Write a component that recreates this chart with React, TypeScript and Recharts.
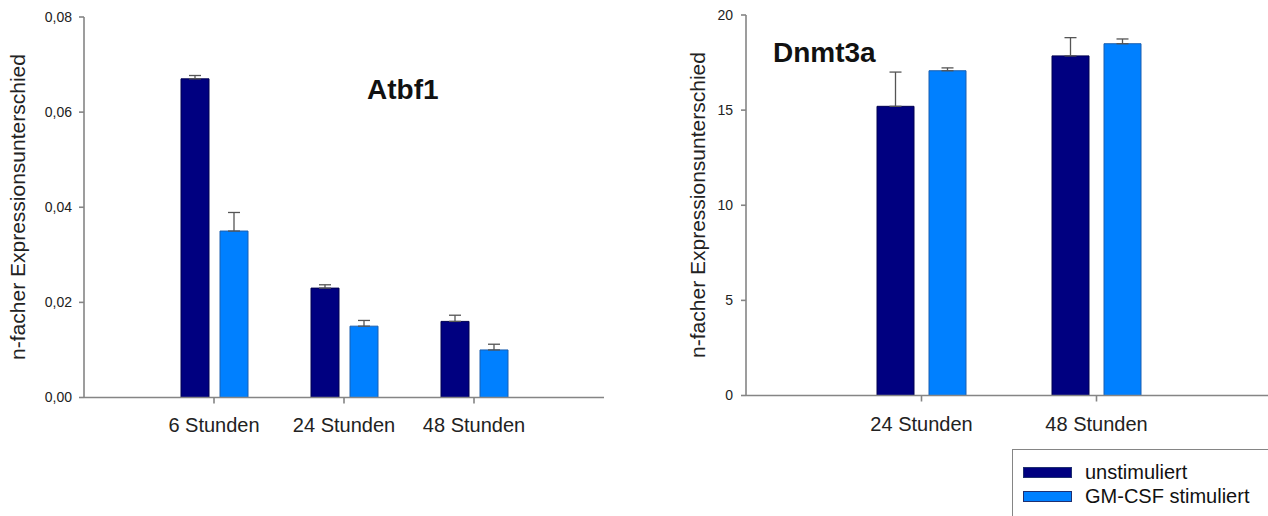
import React from 'react';
import { BarChart, Bar, XAxis, YAxis, ErrorBar, Legend } from 'recharts';

// Atbf1 (left panel)
const atbfTimes = ['6 Stunden', '24 Stunden', '48 Stunden'];
const atbfUnstim = [0.067, 0.023, 0.016];
const atbfUnstimErr = [0.0007, 0.0007, 0.0013];
const atbfStim = [0.035, 0.015, 0.01];
const atbfStimErr = [0.0039, 0.0012, 0.0012];
const atbfTicks = [0, 0.02, 0.04, 0.06, 0.08];

// Dnmt3a (right panel)
const dnmtTimes = ['24 Stunden', '48 Stunden'];
const dnmtUnstim = [15.2, 17.85];
const dnmtUnstimErr = [1.8, 0.96];
const dnmtStim = [17.07, 18.49];
const dnmtStimErr = [0.15, 0.25];
const dnmtTicks = [0, 5, 10, 15, 20];

const seriesNames = ['unstimuliert', 'GM-CSF stimuliert'];
const yLabel = 'n-facher Expressionsunterschied';

const FONT = '"Liberation Sans", Arial, sans-serif';
const AXIS = '#858585';
const DARK = '#000080';
const LIGHT = '#0080ff';

// error bars only go up, so lower bound is 0
const buildRows = (times, unstim, unstimErr, stim, stimErr) =>
  times.map((t, i) => ({
    time: t,
    unstim: unstim[i],
    unstimErr: [0, unstimErr[i]],
    stim: stim[i],
    stimErr: [0, stimErr[i]],
  }));

const atbfData = buildRows(atbfTimes, atbfUnstim, atbfUnstimErr, atbfStim, atbfStimErr);
const dnmtData = buildRows(dnmtTimes, dnmtUnstim, dnmtUnstimErr, dnmtStim, dnmtStimErr);

const rotatedLabel = (bx, cy) => () => (
  <text
    x={bx}
    y={cy}
    transform={`rotate(-90 ${bx} ${cy})`}
    textAnchor="middle"
    fontSize={21}
    fontFamily={FONT}
    fill="#222"
  >
    {yLabel}
  </text>
);

const renderLegend = ({ payload }) => {
  const items = [...(payload || [])].sort(
    (a, b) => seriesNames.indexOf(a.value) - seriesNames.indexOf(b.value)
  );
  return (
    <div
      style={{
        width: 290,
        height: 90,
        boxSizing: 'border-box',
        border: `1.5px solid ${AXIS}`,
        background: '#fff',
        paddingTop: 10,
        fontFamily: FONT,
        fontSize: 20,
        color: '#111',
      }}
    >
      {items.map((p) => (
        <div key={p.value} style={{ display: 'flex', alignItems: 'center', height: 24 }}>
          <span
            style={{
              display: 'inline-block',
              width: 47,
              height: 9,
              marginLeft: 10,
              marginRight: 13,
              background: p.color,
              border: '1px solid #203070',
            }}
          />
          <span>{p.value}</span>
        </div>
      ))}
    </div>
  );
};

const axisLine = { stroke: AXIS, strokeWidth: 1.6 };
const tickText = { fontSize: 14, fontFamily: FONT, fill: '#222' };
const catText = { fontSize: 20, fontFamily: FONT, fill: '#222' };

export default function App() {
  return (
    <div
      style={{
        position: 'fixed',
        left: 0,
        top: 0,
        width: 1268,
        height: 516,
        overflow: 'hidden',
        background: '#fff',
        fontFamily: FONT,
      }}
    >
      <div style={{ position: 'absolute', left: 0, top: 0 }}>
        <BarChart
          width={620}
          height={457.5}
          data={atbfData}
          margin={{ top: 17, right: 16, bottom: 0, left: 0 }}
          barGap={11}
        >
          <XAxis
            dataKey="time"
            interval={0}
            padding={{ left: 65, right: 65 }}
            height={60}
            axisLine={axisLine}
            tickLine={{ stroke: AXIS, strokeWidth: 1.6 }}
            tickSize={6}
            tickMargin={14}
            tick={catText}
          />
          <XAxis xAxisId="top" orientation="top" dataKey="time" height={0} tick={false} tickLine={false} axisLine={axisLine} />
          <YAxis
            domain={[0, 0.08]}
            ticks={atbfTicks}
            width={84}
            axisLine={axisLine}
            tickLine={{ stroke: AXIS, strokeWidth: 1.6 }}
            tickSize={5}
            tickMargin={7}
            tick={tickText}
            tickFormatter={(v) => v.toFixed(2).replace('.', ',')}
            label={{ content: rotatedLabel(25, 207) }}
          />
          <YAxis yAxisId="r" orientation="right" domain={[0, 0.08]} width={0} tick={false} tickLine={false} axisLine={axisLine} />
          <Bar dataKey="unstim" name={seriesNames[0]} fill={DARK} stroke="#000050" strokeWidth={1} barSize={28} isAnimationActive={false}>
            <ErrorBar dataKey="unstimErr" direction="y" width={6} stroke="#555" strokeWidth={1.3} isAnimationActive={false} />
          </Bar>
          <Bar dataKey="stim" name={seriesNames[1]} fill={LIGHT} stroke="#1a5fb0" strokeWidth={1} barSize={28} isAnimationActive={false}>
            <ErrorBar dataKey="stimErr" direction="y" width={6} stroke="#555" strokeWidth={1.3} isAnimationActive={false} />
          </Bar>
        </BarChart>
      </div>

      <div style={{ position: 'absolute', left: 660, top: 0 }}>
        <BarChart
          width={620}
          height={530}
          data={dnmtData}
          margin={{ top: 15, right: 8, bottom: 0, left: 0 }}
          barGap={15}
        >
          <XAxis
            dataKey="time"
            interval={0}
            padding={{ left: 88, right: 88 }}
            height={134.5}
            axisLine={axisLine}
            tickLine={{ stroke: AXIS, strokeWidth: 1.6 }}
            tickSize={6}
            tickMargin={15}
            tick={catText}
          />
          <XAxis xAxisId="top" orientation="top" dataKey="time" height={0} tick={false} tickLine={false} axisLine={axisLine} />
          <YAxis
            domain={[0, 20]}
            ticks={dnmtTicks}
            width={86}
            axisLine={axisLine}
            tickLine={{ stroke: AXIS, strokeWidth: 1.6 }}
            tickSize={5}
            tickMargin={8}
            tick={tickText}
            label={{ content: rotatedLabel(45, 205) }}
          />
          <YAxis yAxisId="r" orientation="right" domain={[0, 20]} width={0} tick={false} tickLine={false} axisLine={axisLine} />
          <Bar dataKey="unstim" name={seriesNames[0]} fill={DARK} stroke="#000050" strokeWidth={1} barSize={37} isAnimationActive={false}>
            <ErrorBar dataKey="unstimErr" direction="y" width={6} stroke="#555" strokeWidth={1.3} isAnimationActive={false} />
          </Bar>
          <Bar dataKey="stim" name={seriesNames[1]} fill={LIGHT} stroke="#1a5fb0" strokeWidth={1} barSize={37} isAnimationActive={false}>
            <ErrorBar dataKey="stimErr" direction="y" width={6} stroke="#555" strokeWidth={1.3} isAnimationActive={false} />
          </Bar>
          <Legend
            layout="vertical"
            align="center"
            verticalAlign="middle"
            wrapperStyle={{ left: 352, top: 449, width: 290, height: 90 }}
            content={renderLegend}
          />
        </BarChart>
      </div>

      <div style={{ position: 'absolute', left: 367, top: 76, fontSize: 28, lineHeight: '28px', fontWeight: 'bold', color: '#111' }}>
        Atbf1
      </div>
      <div style={{ position: 'absolute', left: 773, top: 39, fontSize: 28, lineHeight: '28px', fontWeight: 'bold', color: '#111' }}>
        Dnmt3a
      </div>
    </div>
  );
}
